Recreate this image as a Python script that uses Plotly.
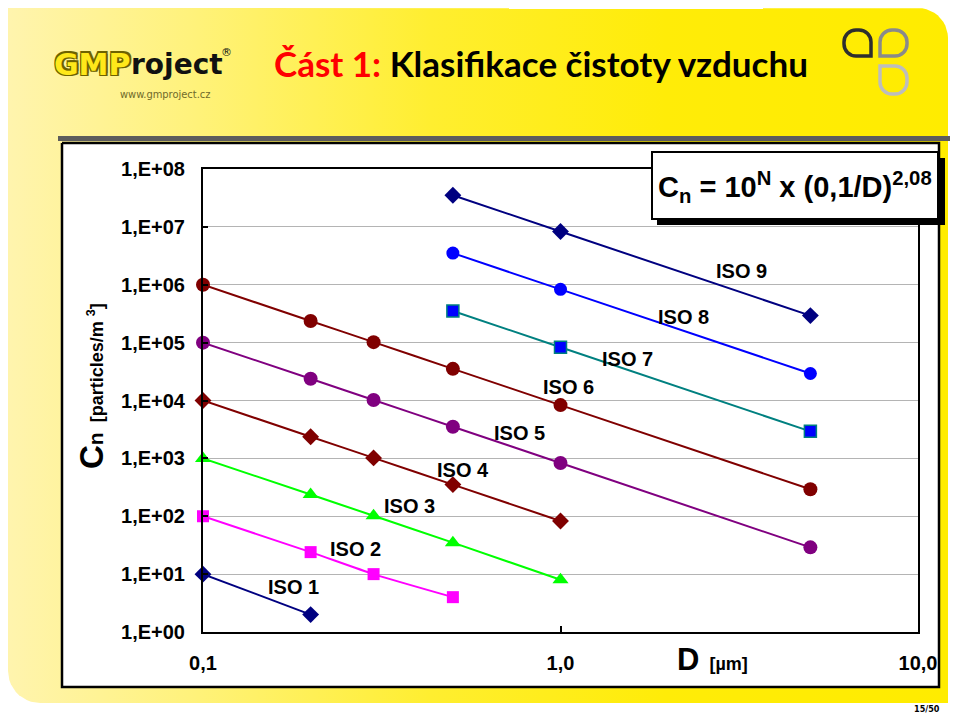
import numpy as np
import plotly.graph_objects as go

W, H = 960, 716
OFF = 8  # the page body margin shifts the figure by this many pixels

# ---------------- data ----------------
sizes_um = [0.1, 0.2, 0.3, 0.5, 1.0, 5.0]
iso1 = [10, 2]
iso2 = [100, 24, 10, 4]
iso3 = [1000, 237, 102, 35, 8]
iso4 = [10000, 2370, 1020, 352, 83]
iso5 = [100000, 23700, 10200, 3520, 832, 29]
iso6 = [1000000, 237000, 102000, 35200, 8320, 293]
sizes_iso789 = [0.5, 1.0, 5.0]
iso7 = [352000, 83200, 2930]
iso8 = [3520000, 832000, 29300]
iso9 = [35200000, 8320000, 293000]

y_tickvals = [1, 10, 100, 1000, 1e4, 1e5, 1e6, 1e7, 1e8]
y_ticktext = ["1,E+00", "1,E+01", "1,E+02", "1,E+03", "1,E+04",
              "1,E+05", "1,E+06", "1,E+07", "1,E+08"]
x_tickvals = [0.1, 1.0, 10.0]
x_ticktext = ["0,1", "1,0", "10,0"]

iso_labels = ["ISO 1", "ISO 2", "ISO 3", "ISO 4", "ISO 5",
              "ISO 6", "ISO 7", "ISO 8", "ISO 9"]
iso_label_px = [(293, 587), (355, 549), (409, 506), (463, 470), (519, 433),
                (568, 387), (627, 359), (683, 317), (741, 271)]

# ---------------- helpers ----------------
FONT = "Liberation Sans, Arial, sans-serif"
PLOT_L, PLOT_R, PLOT_T, PLOT_B = 203, 918, 169, 632


def rr_path(x0, y0, x1, y1, rtl, rtr, rbr, rbl):
    k = 0.5523
    p = f"M {x0 + rtl},{y0} L {x1 - rtr},{y0} "
    if rtr:
        p += f"C {x1 - rtr + k * rtr},{y0} {x1},{y0 + rtr - k * rtr} {x1},{y0 + rtr} "
    p += f"L {x1},{y1 - rbr} "
    if rbr:
        p += f"C {x1},{y1 - rbr + k * rbr} {x1 - rbr + k * rbr},{y1} {x1 - rbr},{y1} "
    p += f"L {x0 + rbl},{y1} "
    if rbl:
        p += f"C {x0 + rbl - k * rbl},{y1} {x0},{y1 - rbl + k * rbl} {x0},{y1 - rbl} "
    p += f"L {x0},{y0 + rtl} "
    if rtl:
        p += f"C {x0},{y0 + rtl - k * rtl} {x0 + rtl - k * rtl},{y0} {x0 + rtl},{y0} "
    return p + "Z"


def panel_outline(x0, y0, x1, y1, r_tr, r_bl):
    xs, ys = [x0, x1 - r_tr], [y0, y0]
    t = np.linspace(-np.pi / 2, 0, 12)
    xs += list(x1 - r_tr + r_tr * np.cos(t))
    ys += list(y0 + r_tr + r_tr * np.sin(t))
    xs += [x1, x1, x0 + r_bl]
    ys += [y0 + r_tr, y1, y1]
    t = np.linspace(np.pi / 2, np.pi, 12)
    xs += list(x0 + r_bl + r_bl * np.cos(t))
    ys += list(y1 - r_bl + r_bl * np.sin(t))
    xs += [x0, x0]
    ys += [y1 - r_bl, y0]
    return xs, ys


fig = go.Figure()

# ---------------- background (pixel subplot x/y) ----------------
px_, py_ = panel_outline(OFF, OFF, 948, 703, 30, 32)
fig.add_trace(go.Scatter(
    x=px_, y=py_, mode="lines", fill="toself", line=dict(width=0),
    fillgradient=dict(type="horizontal",
                      colorscale=[[0, "#FFF4AE"], [0.2, "#FFF27A"],
                                  [0.45, "#FFEE30"], [0.7, "#FFEC08"],
                                  [1, "#FFEC00"]]),
    hoverinfo="skip", showlegend=False, xaxis="x", yaxis="y"))
# dark band under header
fig.add_trace(go.Scatter(
    x=[58, 950, 950, 58, 58], y=[136, 136, 141, 141, 136], mode="lines",
    fill="toself", fillcolor="#5c5c5c", line=dict(width=0),
    hoverinfo="skip", showlegend=False, xaxis="x", yaxis="y"))
# white chart box
fig.add_trace(go.Scatter(
    x=[62, 939, 939, 62, 62], y=[143, 143, 687, 687, 143], mode="lines",
    fill="toself", fillcolor="white", line=dict(width=2.5, color="black"),
    hoverinfo="skip", showlegend=False, xaxis="x", yaxis="y"))

# ---------------- series ----------------
series = [
    (sizes_um[:2], iso1, "#000080", "#000080", "diamond", 13, None),
    (sizes_um[:4], iso2, "#FF00FF", "#FF00FF", "square", 12, None),
    (sizes_um[:5], iso3, "#00FF00", "#00FF00", "triangle-up", 14, None),
    (sizes_um[:5], iso4, "#800000", "#800000", "diamond", 13, None),
    (sizes_um, iso5, "#800080", "#800080", "circle", 14, None),
    (sizes_um, iso6, "#800000", "#800000", "circle", 14, None),
    (sizes_iso789, iso7, "#008080", "#0000FF", "square", 12, "#008080"),
    (sizes_iso789, iso8, "#0000FF", "#0000FF", "circle", 13, None),
    (sizes_iso789, iso9, "#000080", "#000080", "diamond", 13, None),
]
for xs, ys, lc, mc, sym, ms, mlc in series:
    fig.add_trace(go.Scatter(
        x=xs, y=ys, mode="lines+markers",
        line=dict(color=lc, width=2, shape="spline", smoothing=0.6),
        marker=dict(symbol=sym, size=ms, color=mc,
                    line=dict(width=1.5 if mlc else 0, color=mlc or mc)),
        hoverinfo="skip", showlegend=False, xaxis="x2", yaxis="y2",
        cliponaxis=False))

# ---------------- shapes ----------------
shapes = []
# formula box: shadow + box
shapes.append(dict(type="rect", xref="x", yref="y", x0=657, y0=158, x1=945, y1=225,
                   fillcolor="black", line=dict(width=0), layer="above"))
shapes.append(dict(type="rect", xref="x", yref="y", x0=652, y0=152, x1=938, y1=219,
                   fillcolor="white", line=dict(width=2, color="black"), layer="above"))
# right logo leaves
shapes.append(dict(type="path", xref="x", yref="y", layer="above",
                   path=rr_path(844, 30, 871, 56, 12, 12, 0, 12),
                   line=dict(color="#2e2e2e", width=3.5)))
shapes.append(dict(type="path", xref="x", yref="y", layer="above",
                   path=rr_path(880, 30, 907, 56, 12, 12, 12, 0),
                   line=dict(color="#8a8a8a", width=3.5)))
shapes.append(dict(type="path", xref="x", yref="y", layer="above",
                   path=rr_path(880, 66, 907, 94, 0, 12, 12, 12),
                   line=dict(color="#bdbdbd", width=3.5)))

# ---------------- annotations ----------------
ann = []
# GMP outline effect (dark copies behind a yellow copy)
for dx, dy in ((-1.5, -1.5), (1.5, -1.5), (-1.5, 1.5), (1.5, 1.5)):
    ann.append(dict(xref="x", yref="y", x=52, y=64, xanchor="left", yanchor="middle",
                    text="<b>GMP</b>", showarrow=False, xshift=dx, yshift=dy,
                    font=dict(family="DejaVu Sans", size=30, color="#6e6200")))
ann.append(dict(xref="x", yref="y", x=52, y=64, xanchor="left", yanchor="middle",
                text="<b>GMP</b>", showarrow=False,
                font=dict(family="DejaVu Sans", size=30, color="#FFE81A")))
ann.append(dict(xref="x", yref="y", x=129, y=64, xanchor="left", yanchor="middle",
                text="<b>roject</b>", showarrow=False,
                font=dict(family="DejaVu Sans", size=28, color="#111111")))
ann.append(dict(xref="x", yref="y", x=226, y=52, xanchor="center", yanchor="middle",
                text="®", showarrow=False,
                font=dict(family="DejaVu Sans", size=11, color="#111111")))
ann.append(dict(xref="x", yref="y", x=165, y=94, xanchor="center", yanchor="middle",
                text="www.gmproject.cz", showarrow=False,
                font=dict(family="DejaVu Sans Condensed", size=11, color="#6f6a2a")))
# title
ann.append(dict(xref="x", yref="y", x=272, y=63, xanchor="left", yanchor="middle",
                text="<b><span style='color:#FF0000'>Část 1:</span> Klasifikace čistoty vzduchu</b>",
                showarrow=False,
                font=dict(family="Lato, sans-serif", size=35, color="black")))
# formula
ann.append(dict(xref="x", yref="y", x=656, y=187, xanchor="left", yanchor="middle",
                text="<b>C<sub>n</sub> = 10<sup>N</sup> x (0,1/D)<sup>2,08</sup></b>",
                showarrow=False, font=dict(family=FONT, size=29, color="black")))
# ISO labels
for lab, (lx, ly) in zip(iso_labels, iso_label_px):
    ann.append(dict(xref="x", yref="y", x=lx, y=ly, xanchor="center", yanchor="middle",
                    text=f"<b>{lab}</b>", showarrow=False,
                    font=dict(family=FONT, size=20, color="black")))
# y title
ann.append(dict(xref="x", yref="y", x=91, y=386, xanchor="center", yanchor="middle",
                textangle=-90, showarrow=False,
                text="<b><span style='font-size:33px'>C</span><span style='font-size:21px'>n</span>"
                     "  <span style='font-size:18px'>[particles/m <sup>3</sup>]</span></b>",
                font=dict(family=FONT, size=18, color="black")))
# x title
ann.append(dict(xref="x", yref="y", x=675, y=659, xanchor="left", yanchor="middle",
                showarrow=False,
                text="<b><span style='font-size:31px'>D</span>  <span style='font-size:18px'>[µm]</span></b>",
                font=dict(family=FONT, size=18, color="black")))
# page number
ann.append(dict(xref="x", yref="y", x=927, y=709, xanchor="center", yanchor="middle",
                showarrow=False, text="<b>15/50</b>",
                font=dict(family="DejaVu Sans Condensed", size=9, color="black")))

fig.update_layout(
    template="none",
    width=W, height=H, autosize=False,
    margin=dict(l=0, r=0, t=0, b=0, pad=0, autoexpand=False),
    paper_bgcolor="white", plot_bgcolor="rgba(0,0,0,0)",
    showlegend=False, shapes=shapes, annotations=ann,
    xaxis=dict(domain=[0, 1], range=[OFF, W + OFF], visible=False, fixedrange=True,
               automargin=False),
    yaxis=dict(domain=[0, 1], range=[H + OFF, OFF], visible=False, fixedrange=True,
               automargin=False),
    xaxis2=dict(type="log", range=[-1, 1], anchor="y2", automargin=False,
                domain=[(PLOT_L - OFF) / W, (PLOT_R - OFF) / W],
                showgrid=False, zeroline=False,
                showline=True, mirror=True, linecolor="black", linewidth=2,
                ticks="inside", ticklen=6, tickcolor="black", tickwidth=1.5,
                tickvals=x_tickvals, ticktext=[f"<b>{t}</b>" for t in x_ticktext],
                tickfont=dict(family=FONT, size=20, color="black"),
                ticklabelstandoff=12),
    yaxis2=dict(type="log", range=[0, 8], anchor="x2", automargin=False,
                domain=[1 - (PLOT_B - OFF) / H, 1 - (PLOT_T - OFF) / H],
                showgrid=True, gridcolor="#b4b4b4", gridwidth=1, zeroline=False,
                showline=True, mirror=True, linecolor="black", linewidth=2,
                ticks="inside", ticklen=5, tickcolor="black", tickwidth=1.5,
                tickvals=y_tickvals, ticktext=[f"<b>{t}</b>" for t in y_ticktext],
                tickfont=dict(family=FONT, size=20, color="black"),
                ticklabelstandoff=12),
)

fig.write_html("out.html")
